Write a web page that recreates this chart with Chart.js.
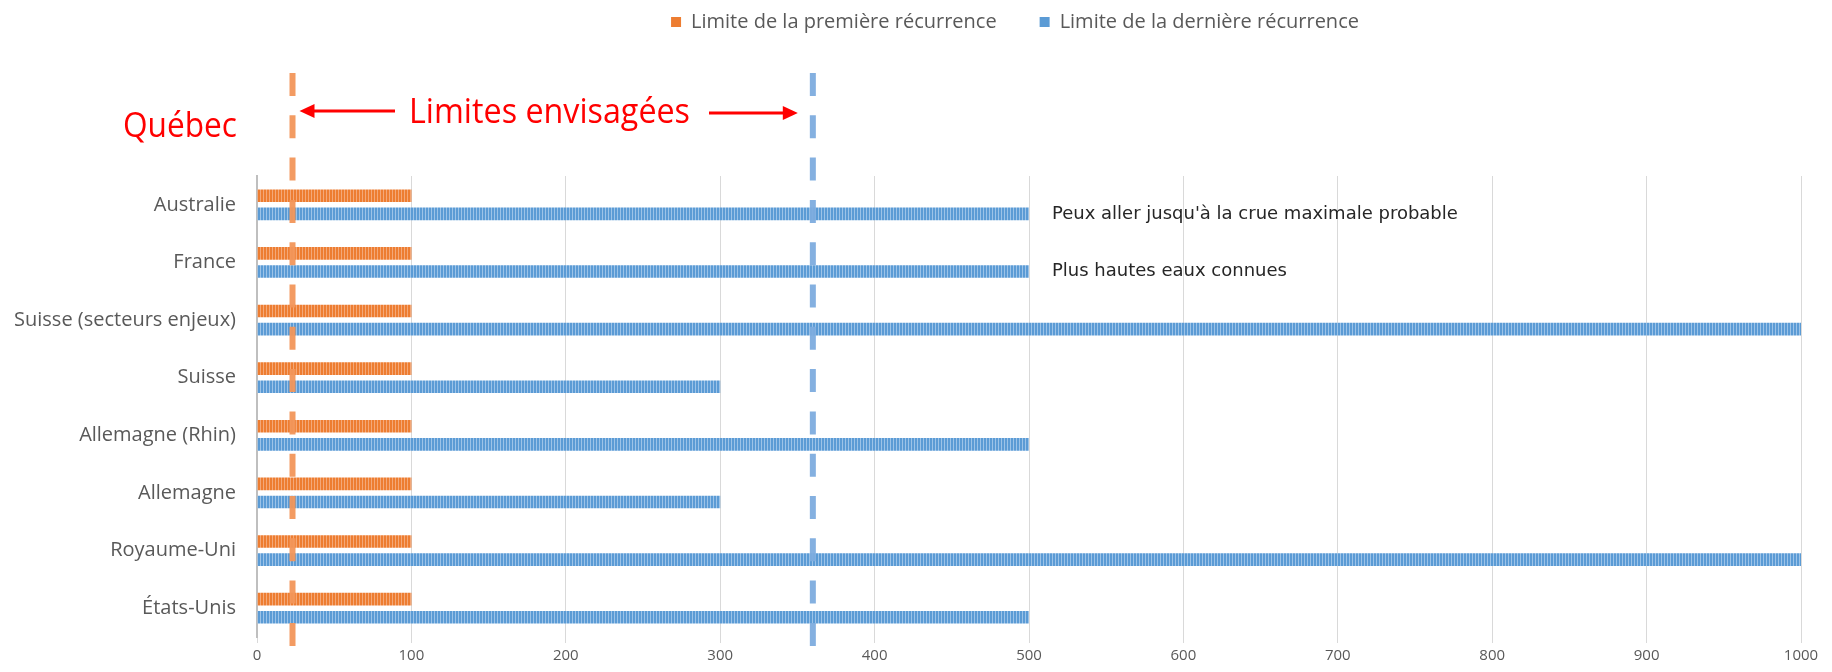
<!DOCTYPE html>
<html>
<head>
<meta charset="utf-8">
<script src="https://cdn.jsdelivr.net/npm/chart.js@4/dist/chart.umd.min.js"></script>
<style>
  html, body { margin: 0; padding: 0; background: #fff; }
</style>
</head>
<body>
<canvas id="barChart" width="1832" height="672"></canvas>
<script>
var pays = ['Australie', 'France', 'Suisse (secteurs enjeux)', 'Suisse', 'Allemagne (Rhin)', 'Allemagne', 'Royaume-Uni', 'États-Unis'];
var premiereRecurrence = [100, 100, 100, 100, 100, 100, 100, 100];
var derniereRecurrence = [500, 500, 1000, 300, 500, 300, 1000, 500];
var notes = ["Peux aller jusqu'à la crue maximale probable", 'Plus hautes eaux connues', '', '', '', '', '', ''];
// limites envisagées au Québec (récurrence, en années)
var limitesQuebec = [23, 360];

// barres rayées comme dans le graphique Excel
function hachures(base, clair) {
    var c = document.createElement('canvas');
    c.width = 3;
    c.height = 1;
    var g = c.getContext('2d');
    g.fillStyle = base;
    g.fillRect(0, 0, 3, 1);
    g.fillStyle = clair;
    g.fillRect(2, 0, 1, 1);
    return g.createPattern(c, 'repeat');
}

function fleche(ctx, x1, y, x2) {
    var dir = x2 > x1 ? 1 : -1;
    ctx.beginPath();
    ctx.moveTo(x1, y);
    ctx.lineTo(x2 - dir * 12, y);
    ctx.stroke();
    ctx.beginPath();
    ctx.moveTo(x2, y);
    ctx.lineTo(x2 - dir * 15, y - 7);
    ctx.lineTo(x2 - dir * 15, y + 7);
    ctx.closePath();
    ctx.fill();
}

var annotations = {
    id: 'annotations',
    beforeUpdate: function (chart) {
        // espace sous la légende, et légende un peu à gauche
        var legend = chart.legend;
        if (legend && !legend._patched) {
            var fit = legend.fit;
            var draw = legend.draw;
            legend.fit = function () {
                fit.call(this);
                this.height = 176 - chart.options.layout.padding.top;
            };
            legend.draw = function () {
                this.ctx.save();
                this.ctx.translate(-14, 0);
                draw.call(this);
                this.ctx.restore();
            };
            legend._patched = true;
        }
    },
    afterDatasetsDraw: function (chart) {
        var ctx = chart.ctx;
        var x = chart.scales.x;
        var area = chart.chartArea;
        ctx.save();

        // notes à droite des barres bleues
        var bars = chart.getDatasetMeta(1).data;
        ctx.font = '18px "DejaVu Sans"';
        ctx.fillStyle = '#262626';
        ctx.textAlign = 'left';
        ctx.textBaseline = 'middle';
        notes.forEach(function (n, i) {
            if (!n) return;
            ctx.fillText(n, bars[i].x + 23, bars[i].y);
        });

        // lignes pointillées
        var couleurs = ['rgba(242,150,90,0.95)', 'rgba(125,172,222,0.95)'];
        var px = limitesQuebec.map(function (v) { return x.getPixelForValue(v); });
        ctx.lineWidth = 6;
        ctx.setLineDash([23, 19.3]);
        px.forEach(function (p, i) {
            ctx.strokeStyle = couleurs[i];
            ctx.beginPath();
            ctx.moveTo(p, 73);
            ctx.lineTo(p, area.bottom + 10);
            ctx.stroke();
        });
        ctx.setLineDash([]);

        // textes rouges et flèches
        ctx.fillStyle = '#ff0000';
        ctx.strokeStyle = '#ff0000';
        ctx.font = '34px "Open Sans"';
        ctx.textBaseline = 'alphabetic';
        ctx.fillText('Québec', 123, 137, 114);
        ctx.fillText('Limites envisagées', 409, 123, 281);
        ctx.lineWidth = 3;
        fleche(ctx, 395, 111, px[0] + 7);
        fleche(ctx, 709, 113, px[1] - 15);

        ctx.restore();
    }
};

var barData = {
    labels: pays,
    datasets: [{
        label: 'Limite de la première récurrence',
        data: premiereRecurrence,
        backgroundColor: hachures('#ed7d31', '#f4a878'),
        borderWidth: 0,
        categoryPercentage: 0.63,
        barPercentage: 0.7
    }, {
        label: 'Limite de la dernière récurrence',
        data: derniereRecurrence,
        backgroundColor: hachures('#5b9bd5', '#9cc3e8'),
        borderWidth: 0,
        categoryPercentage: 0.63,
        barPercentage: 0.7
    }]
};

var barConfig = {
    type: 'bar',
    data: barData,
    options: {
        indexAxis: 'y',
        responsive: false,
        animation: false,
        layout: { padding: { top: -31, left: 0, right: 31, bottom: 0 } },
        plugins: {
            legend: {
                position: 'top',
                fullSize: false,
                labels: {
                    padding: 43,
                    boxWidth: 10,
                    boxHeight: 10,
                    color: '#595959',
                    font: { family: 'Open Sans', size: 20 },
                    generateLabels: function (chart) {
                        var solides = ['#ed7d31', '#5b9bd5'];
                        return chart.data.datasets.map(function (ds, i) {
                            return { text: ds.label, fillStyle: solides[i], strokeStyle: solides[i], lineWidth: 0, datasetIndex: i, fontColor: '#595959' };
                        });
                    }
                }
            },
            tooltip: { enabled: false }
        },
        scales: {
            x: {
                min: 0,
                max: 1000,
                ticks: {
                    stepSize: 100,
                    color: '#595959',
                    font: { family: 'Open Sans', size: 15 },
                    padding: 4,
                    callback: function (v) { return String(v); }
                },
                grid: { color: '#d9d9d9', tickLength: 6, tickColor: '#d9d9d9' },
                border: { display: false },
                afterFit: function (scale) { scale.height = 35; }
            },
            y: {
                ticks: { color: '#595959', font: { family: 'Open Sans', size: 20 }, padding: 13 },
                grid: { display: false },
                border: { display: true, color: '#bfbfbf', width: 2 },
                afterFit: function (scale) { scale.width = 257; }
            }
        }
    },
    plugins: [annotations]
};

var barChart = new Chart(document.getElementById('barChart'), barConfig);
</script>
</body>
</html>
